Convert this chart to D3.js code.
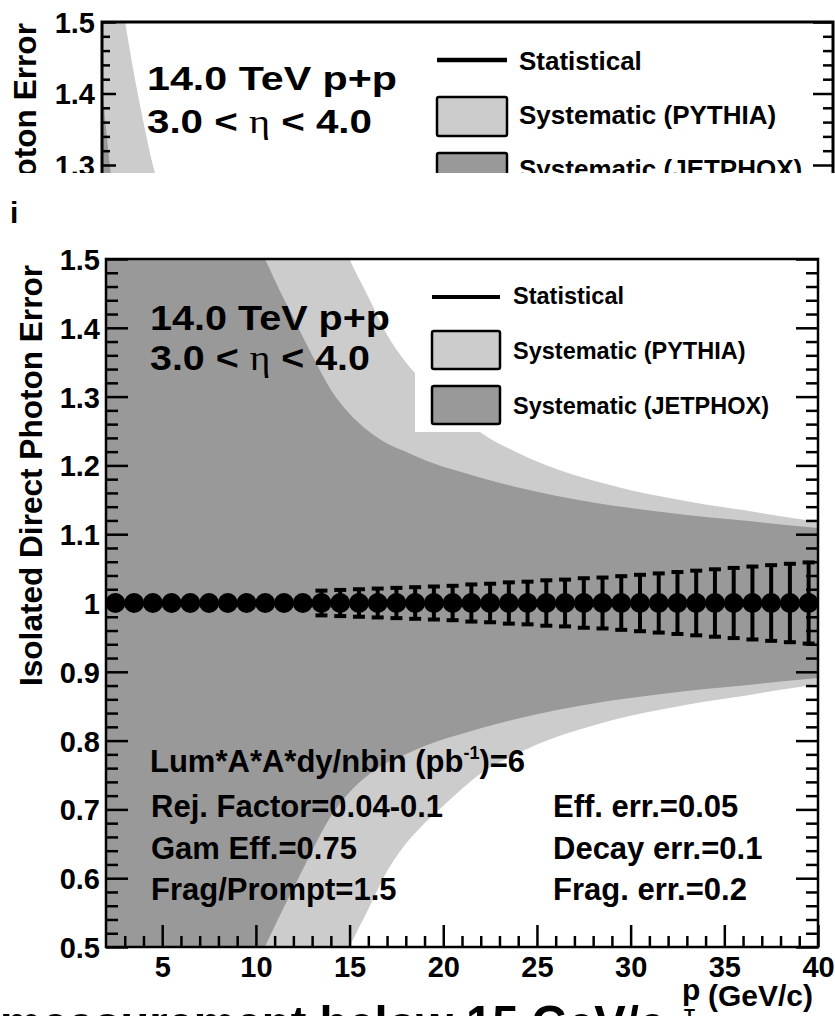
<!DOCTYPE html>
<html>
<head>
<meta charset="utf-8">
<script src="https://cdn.jsdelivr.net/npm/d3@7"></script>
<style>
  body { margin: 0; background: #fff; }
  svg { display: block; }
</style>
</head>
<body>
<script>
var font = "'Liberation Sans', Arial, Helvetica, sans-serif";

/* data points */
var ptPoints = [2.5, 3.5, 4.5, 5.5, 6.5, 7.5, 8.5, 9.5, 10.5, 11.5, 12.5, 13.5, 14.5, 15.5, 16.5, 17.5, 18.5, 19.5, 20.5,
  21.5, 22.5, 23.5, 24.5, 25.5, 26.5, 27.5, 28.5, 29.5, 30.5, 31.5, 32.5, 33.5, 34.5, 35.5, 36.5, 37.5, 38.5, 39.5];
var ratio = [1, 1, 1, 1, 1, 1, 1, 1, 1, 1, 1, 1, 1, 1, 1, 1, 1, 1, 1,
  1, 1, 1, 1, 1, 1, 1, 1, 1, 1, 1, 1, 1, 1, 1, 1, 1, 1, 1];
var statErr = [0, 0, 0, 0, 0, 0, 0, 0, 0, 0, 0, 0.018, 0.019, 0.020, 0.021, 0.022, 0.023, 0.024, 0.025,
  0.027, 0.028, 0.030, 0.031, 0.033, 0.034, 0.036, 0.037, 0.039, 0.041, 0.043, 0.045, 0.047, 0.049, 0.051, 0.053, 0.055, 0.057, 0.059];

/* systematic bands (half width) */
var bandPt     = [2, 6, 8, 10, 11, 12, 13, 14, 15, 16, 17, 18, 19, 20, 21, 22, 24, 26, 28, 30, 32, 34, 36, 38, 40];
var jetphoxErr = [1.6, 1.2, 0.8, 0.535, 0.47, 0.415, 0.36, 0.31, 0.275, 0.25, 0.232, 0.22, 0.208, 0.198, 0.19, 0.182,
  0.168, 0.156, 0.146, 0.138, 0.131, 0.125, 0.12, 0.114, 0.109];
var pythiaErr  = [2.0, 1.5, 1.2, 0.95, 0.83, 0.73, 0.65, 0.57, 0.50, 0.445, 0.39, 0.35, 0.32, 0.295, 0.27, 0.248,
  0.218, 0.195, 0.178, 0.164, 0.153, 0.143, 0.135, 0.126, 0.118];

/* cut-off panel at the top */
var stripPt      = [2, 2.6, 3.2, 3.6, 4.1, 4.75, 5.5, 7];
var stripPythia  = [0.72, 0.60, 0.50, 0.437, 0.367, 0.289, 0.24, 0.19];
var stripJetphox = [0.41, 0.26, 0.2, 0.18, 0.16, 0.14, 0.12, 0.1];
var stripTicks = [1.3, 1.4, 1.5];
var stripMinor = [1.28, 1.32, 1.34, 1.36, 1.38, 1.42, 1.44, 1.46, 1.48];

var xTicks = [5, 10, 15, 20, 25, 30, 35, 40];
var xMinor = [3, 4, 6, 7, 8, 9, 11, 12, 13, 14, 16, 17, 18, 19, 21, 22, 23, 24, 26, 27, 28, 29, 31, 32, 33, 34, 36, 37, 38, 39];
var yTicks = [0.5, 0.6, 0.7, 0.8, 0.9, 1.0, 1.1, 1.2, 1.3, 1.4, 1.5];
var yMinor = [0.52, 0.54, 0.56, 0.58, 0.62, 0.64, 0.66, 0.68, 0.72, 0.74, 0.76, 0.78, 0.82, 0.84, 0.86, 0.88,
  0.92, 0.94, 0.96, 0.98, 1.02, 1.04, 1.06, 1.08, 1.12, 1.14, 1.16, 1.18, 1.22, 1.24, 1.26, 1.28,
  1.32, 1.34, 1.36, 1.38, 1.42, 1.44, 1.46, 1.48];

var legendLabels = ["Statistical", "Systematic (PYTHIA)", "Systematic (JETPHOX)"];
var infoLeft = ["Rej. Factor=0.04-0.1", "Gam Eff.=0.75", "Frag/Prompt=1.5"];
var infoRight = ["Eff. err.=0.05", "Decay err.=0.1", "Frag. err.=0.2"];

var lightGray = "#cccccc";
var darkGray = "#999999";

const svg = d3.select("body").append("svg")
  .attr("width", 835)
  .attr("height", 1016)
  .attr("font-family", font)
  .attr("font-weight", "bold");

function yFmt(d) { return d === 1 ? "1" : d3.format(".1f")(d); }

function styleAxis(g, size) {
  g.attr("font-size", size).attr("font-family", font).attr("font-weight", "bold");
  g.selectAll("line").attr("stroke-width", 2.5);
  g.selectAll("text").attr("fill", "#000");
  g.select(".domain").remove();
}

function bandArea(xs, ys, pts) {
  return d3.area()
    .curve(d3.curveMonotoneX)
    .x(function (d, i) { return xs(pts[i]); })
    .y0(function (d) { return ys(1 - d); })
    .y1(function (d) { return ys(1 + d); });
}

/* ---------- top strip (cut off) ---------- */
const xs = d3.scaleLinear().domain([2, 40]).range([102, 833]);
const ys = d3.scaleLinear().domain([0.5, 1.5]).range([737, 22]);

const defs = svg.append("defs");
defs.append("clipPath").attr("id", "stripcut")
  .append("rect").attr("x", 0).attr("y", 0).attr("width", 835).attr("height", 173);
defs.append("clipPath").attr("id", "stripframe")
  .append("rect").attr("x", 102).attr("y", 22).attr("width", 731).attr("height", 715);
defs.append("clipPath").attr("id", "mainframe")
  .append("rect").attr("x", 106).attr("y", 259).attr("width", 712).attr("height", 688);

const strip = svg.append("g").attr("clip-path", "url(#stripcut)");
const stripBands = strip.append("g").attr("clip-path", "url(#stripframe)");
stripBands.append("path").datum(stripPythia).attr("fill", lightGray).attr("d", bandArea(xs, ys, stripPt));
stripBands.append("path").datum(stripJetphox).attr("fill", darkGray).attr("d", bandArea(xs, ys, stripPt));

strip.append("g").attr("transform", "translate(102,0)")
  .call(d3.axisLeft(ys).tickValues(stripTicks).tickFormat(yFmt).tickSize(-14).tickPadding(7))
  .call(styleAxis, 29)
  .selectAll("text").attr("dy", "0.36em");
strip.append("g").attr("transform", "translate(102,0)")
  .call(d3.axisLeft(ys).tickValues(stripMinor).tickFormat("").tickSize(-8))
  .call(styleAxis, 29);
strip.append("g").attr("transform", "translate(833,0)")
  .call(d3.axisRight(ys).tickValues(stripTicks).tickFormat("").tickSize(-20))
  .call(styleAxis, 29);
strip.append("g").attr("transform", "translate(833,0)")
  .call(d3.axisRight(ys).tickValues(stripMinor).tickFormat("").tickSize(-10))
  .call(styleAxis, 29);
strip.append("path")
  .attr("d", "M102,180V22H833V180")
  .attr("fill", "none").attr("stroke", "#000").attr("stroke-width", 3);

strip.append("text").attr("x", 147).attr("y", 90).attr("font-size", 33)
  .attr("textLength", 250).attr("lengthAdjust", "spacingAndGlyphs").text("14.0 TeV p+p");
const sEta = strip.append("text").attr("x", 147).attr("y", 133).attr("font-size", 33)
  .attr("textLength", 225).attr("lengthAdjust", "spacingAndGlyphs");
sEta.append("tspan").text("3.0 < ");
sEta.append("tspan").attr("font-family", "'Liberation Serif', serif").attr("font-weight", "normal").text("\u03b7");
sEta.append("tspan").text(" < 4.0");

strip.append("line").attr("x1", 437).attr("x2", 507).attr("y1", 60).attr("y2", 60)
  .attr("stroke", "#000").attr("stroke-width", 4.5);
strip.selectAll(".sbox").data([lightGray, darkGray]).enter().append("rect")
  .attr("class", "sbox")
  .attr("x", 437).attr("y", function (d, i) { return 97 + i * 56; })
  .attr("width", 70).attr("height", 39).attr("rx", 2)
  .attr("fill", function (d) { return d; })
  .attr("stroke", "#000").attr("stroke-width", 2.5);
strip.selectAll(".slab").data(legendLabels).enter().append("text")
  .attr("class", "slab")
  .attr("x", 519).attr("y", function (d, i) { return 70 + i * 54; })
  .attr("font-size", 26)
  .text(function (d) { return d; });

strip.append("text")
  .attr("transform", "translate(36,23) rotate(-90)")
  .attr("text-anchor", "end").attr("font-size", 31)
  .attr("textLength", 195).attr("lengthAdjust", "spacingAndGlyphs")
  .text("Photon Error");

svg.append("text").attr("x", 10).attr("y", 223).attr("font-size", 30).text("i");

/* ---------- main plot ---------- */
const x = d3.scaleLinear().domain([2, 40]).range([106, 818]);
const y = d3.scaleLinear().domain([0.5, 1.5]).range([947, 259]);

const bands = svg.append("g").attr("clip-path", "url(#mainframe)");
bands.append("path").datum(pythiaErr).attr("fill", lightGray).attr("d", bandArea(x, y, bandPt));
bands.append("path").datum(jetphoxErr).attr("fill", darkGray).attr("d", bandArea(x, y, bandPt));

/* legend background */
svg.append("rect")
  .attr("x", 415).attr("y", 259).attr("width", 403).attr("height", 173)
  .attr("fill", "#fff");

/* statistical errors + points */
const pts = ptPoints.map(function (p, i) { return { pt: p, v: ratio[i], e: statErr[i] }; });
const withErr = pts.filter(function (d) { return d.e > 0; });

const bars = svg.append("g").attr("stroke", "#000").attr("stroke-width", 4);
bars.selectAll(".eb").data(withErr).enter().append("line")
  .attr("x1", d => x(d.pt)).attr("x2", d => x(d.pt))
  .attr("y1", d => y(d.v + d.e)).attr("y2", d => y(d.v - d.e));
bars.selectAll(".cap-hi").data(withErr).enter().append("line")
  .attr("x1", d => x(d.pt) - 6).attr("x2", d => x(d.pt) + 6)
  .attr("y1", d => y(d.v + d.e)).attr("y2", d => y(d.v + d.e));
bars.selectAll(".cap-lo").data(withErr).enter().append("line")
  .attr("x1", d => x(d.pt) - 6).attr("x2", d => x(d.pt) + 6)
  .attr("y1", d => y(d.v - d.e)).attr("y2", d => y(d.v - d.e));

svg.append("g").selectAll("circle").data(pts).enter().append("circle")
  .attr("cx", d => x(d.pt)).attr("cy", d => y(d.v)).attr("r", 10)
  .attr("fill", "#000");

/* axes */
svg.append("g").attr("transform", "translate(106,0)")
  .call(d3.axisLeft(y).tickValues(yTicks).tickFormat(yFmt).tickSize(-22).tickPadding(6))
  .call(styleAxis, 29)
  .selectAll("text").attr("dy", "0.36em");
svg.append("g").attr("transform", "translate(106,0)")
  .call(d3.axisLeft(y).tickValues(yMinor).tickFormat("").tickSize(-12))
  .call(styleAxis, 29);
svg.append("g").attr("transform", "translate(818,0)")
  .call(d3.axisRight(y).tickValues(yTicks).tickFormat("").tickSize(-22))
  .call(styleAxis, 29);
svg.append("g").attr("transform", "translate(818,0)")
  .call(d3.axisRight(y).tickValues(yMinor).tickFormat("").tickSize(-12))
  .call(styleAxis, 29);
svg.append("g").attr("transform", "translate(0,947)")
  .call(d3.axisBottom(x).tickValues(xTicks).tickSize(-22).tickPadding(9))
  .call(styleAxis, 29);
svg.append("g").attr("transform", "translate(0,947)")
  .call(d3.axisBottom(x).tickValues(xMinor).tickFormat("").tickSize(-11))
  .call(styleAxis, 29);

svg.append("rect")
  .attr("x", 106).attr("y", 259).attr("width", 712).attr("height", 688)
  .attr("fill", "none").attr("stroke", "#000").attr("stroke-width", 2.5);

/* titles */
svg.append("text").attr("x", 150).attr("y", 330).attr("font-size", 35)
  .attr("textLength", 240).attr("lengthAdjust", "spacingAndGlyphs").text("14.0 TeV p+p");
const eta = svg.append("text").attr("x", 150).attr("y", 370).attr("font-size", 35)
  .attr("textLength", 220).attr("lengthAdjust", "spacingAndGlyphs");
eta.append("tspan").text("3.0 < ");
eta.append("tspan").attr("font-family", "'Liberation Serif', serif").attr("font-weight", "normal").text("\u03b7");
eta.append("tspan").text(" < 4.0");

/* legend */
svg.append("line").attr("x1", 432).attr("x2", 500).attr("y1", 297).attr("y2", 297)
  .attr("stroke", "#000").attr("stroke-width", 4);
svg.selectAll(".lbox").data([lightGray, darkGray]).enter().append("rect")
  .attr("class", "lbox")
  .attr("x", 432).attr("y", function (d, i) { return 331 + i * 55; })
  .attr("width", 68).attr("height", 38).attr("rx", 2)
  .attr("fill", function (d) { return d; })
  .attr("stroke", "#000").attr("stroke-width", 2.5);
svg.selectAll(".llab").data(legendLabels).enter().append("text")
  .attr("class", "llab")
  .attr("x", 513).attr("y", function (d, i) { return 304 + i * 55; })
  .attr("font-size", 23.5)
  .text(function (d) { return d; });

/* info texts */
const lum = svg.append("text").attr("x", 150).attr("y", 772).attr("font-size", 31);
lum.append("tspan").text("Lum*A*A*dy/nbin (pb");
lum.append("tspan").attr("font-size", 18).attr("dy", -13).text("-1");
lum.append("tspan").attr("dy", 13).text(")=6");

svg.selectAll(".infoL").data(infoLeft).enter().append("text")
  .attr("class", "infoL")
  .attr("x", 151).attr("y", function (d, i) { return 817 + i * 41.5; })
  .attr("font-size", 31)
  .text(function (d) { return d; });
svg.selectAll(".infoR").data(infoRight).enter().append("text")
  .attr("class", "infoR")
  .attr("x", 553).attr("y", function (d, i) { return 817 + i * 41.5; })
  .attr("font-size", 31)
  .text(function (d) { return d; });

/* axis titles */
svg.append("text")
  .attr("transform", "translate(42,265) rotate(-90)")
  .attr("text-anchor", "end").attr("font-size", 31)
  .attr("textLength", 421).attr("lengthAdjust", "spacingAndGlyphs")
  .text("Isolated Direct Photon Error");

svg.append("text").attr("x", 682).attr("y", 1000).attr("font-size", 30).text("p");
svg.append("text").attr("x", 684).attr("y", 1022).attr("font-size", 18).text("T");
svg.append("text").attr("x", 708).attr("y", 1006).attr("font-size", 30).text("(GeV/c)");

/* caption underneath, cut by the page edge */
svg.append("text").attr("x", 0).attr("y", 1041).attr("font-size", 50)
  .attr("textLength", 665).attr("lengthAdjust", "spacingAndGlyphs")
  .text("measurement below 15 GeV/c");
</script>
</body>
</html>
